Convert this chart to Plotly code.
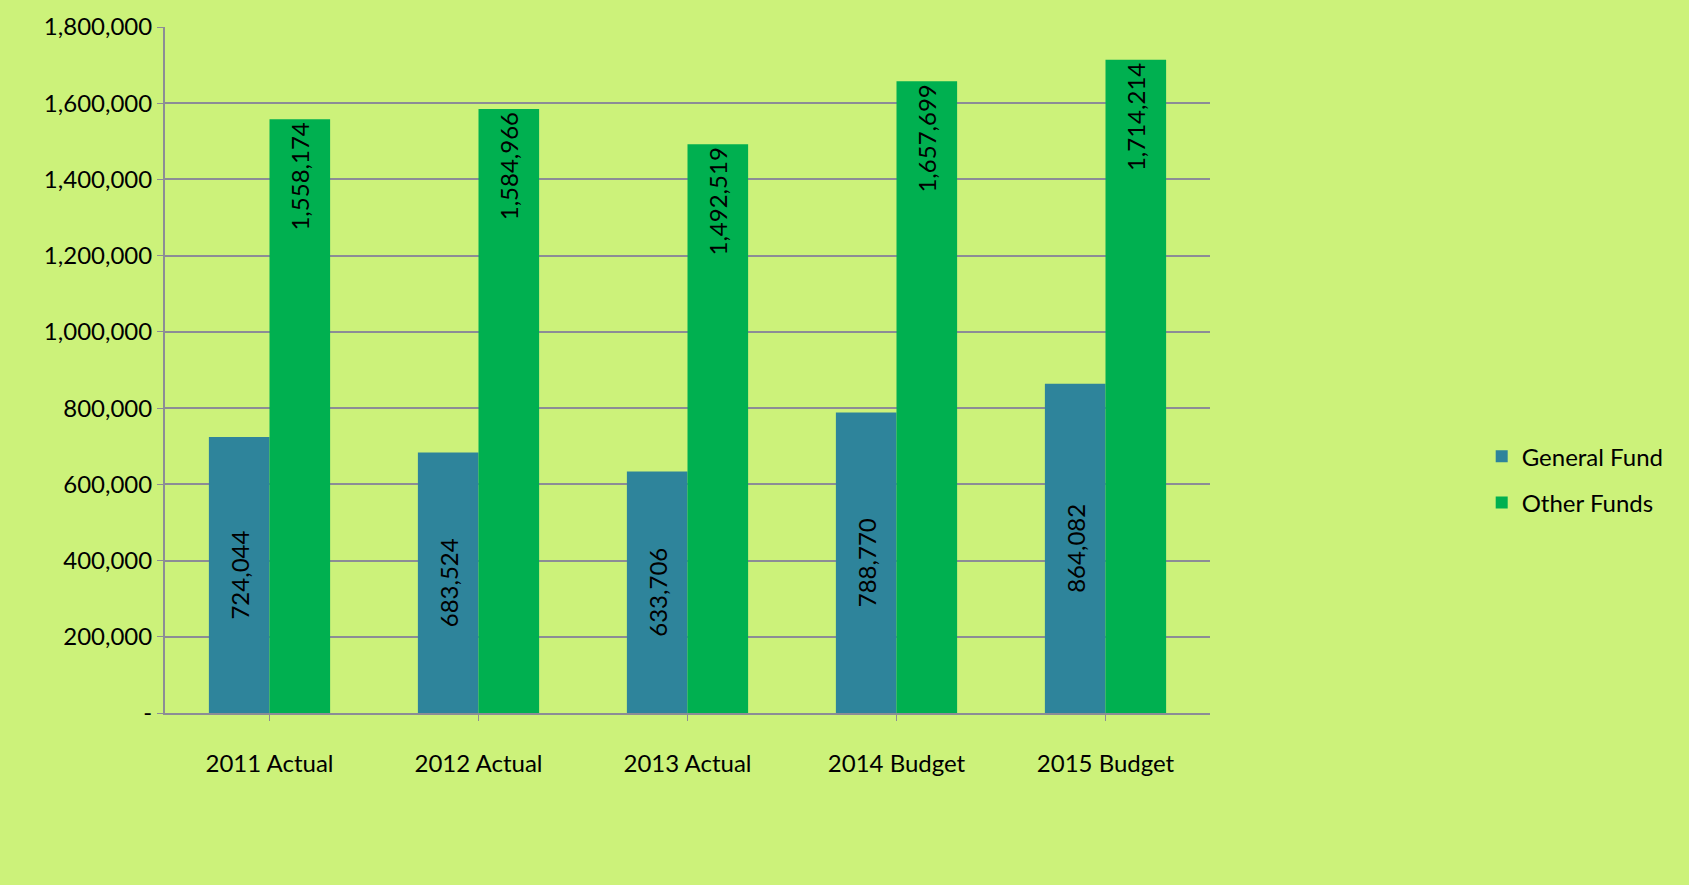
import plotly.graph_objects as go

categories = ["2011 Actual", "2012 Actual", "2013 Actual", "2014 Budget", "2015 Budget"]
general_fund = [724044, 683524, 633706, 788770, 864082]
other_funds = [1558174, 1584966, 1492519, 1657699, 1714214]
tick_vals = [0, 200000, 400000, 600000, 800000, 1000000, 1200000, 1400000, 1600000, 1800000]
tick_text = ["-", "200,000", "400,000", "600,000", "800,000", "1,000,000",
             "1,200,000", "1,400,000", "1,600,000", "1,800,000"]

FONT = "Lato, 'Noto Sans', sans-serif"
BG = "#CCF27A"

fig = go.Figure()
fig.add_trace(go.Bar(
    name="General Fund", x=categories, y=general_fund, legendgroup="g1",
    marker=dict(color="#2E849B", line=dict(width=0)),
    text=[f"{v:,}" for v in general_fund], textposition="inside",
    insidetextanchor="middle", textangle=-90,
    textfont=dict(family=FONT, size=24, color="black"),
))
fig.add_trace(go.Bar(
    name="Other Funds", x=categories, y=other_funds, legendgroup="g2",
    marker=dict(color="#00B050", line=dict(width=0)),
    text=[f"{v:,}" for v in other_funds], textposition="inside",
    insidetextanchor="end", textangle=-90,
    textfont=dict(family=FONT, size=24, color="black"),
))

fig.update_layout(
    width=1689, height=885,
    paper_bgcolor=BG, plot_bgcolor=BG,
    font=dict(family=FONT, size=24, color="black"),
    barmode="group", bargap=0.42, bargroupgap=0.0,
    margin=dict(l=165, r=479, t=27, b=172),
    showlegend=True,
    legend=dict(x=1.26, xanchor="left", y=0.34, yanchor="middle",
                font=dict(size=24), bgcolor="rgba(0,0,0,0)",
                itemwidth=30, tracegroupgap=12),
    uniformtext=dict(mode=False),
)
fig.update_xaxes(
    showgrid=False, showline=True, linecolor="#8C8C96", linewidth=2,
    ticks="outside", tickcolor="#8C8C96", ticklen=6,
    tickfont=dict(family=FONT, size=24),
    ticklabelstandoff=22,
)
fig.update_yaxes(
    range=[0, 1800000], tickvals=tick_vals, ticktext=tick_text,
    showgrid=True, gridcolor="#8C8C96", gridwidth=2,
    showline=True, linecolor="#8C8C96", linewidth=2,
    ticks="outside", tickcolor="#8C8C96", ticklen=6,
    tickfont=dict(family=FONT, size=24), zeroline=False,
)

fig.write_html(
    "out.html",
    config={"displayModeBar": False},
    post_script="document.body.style.margin='0';document.body.style.overflow='hidden';"
                "document.body.style.background='#CCF27A';",
)
